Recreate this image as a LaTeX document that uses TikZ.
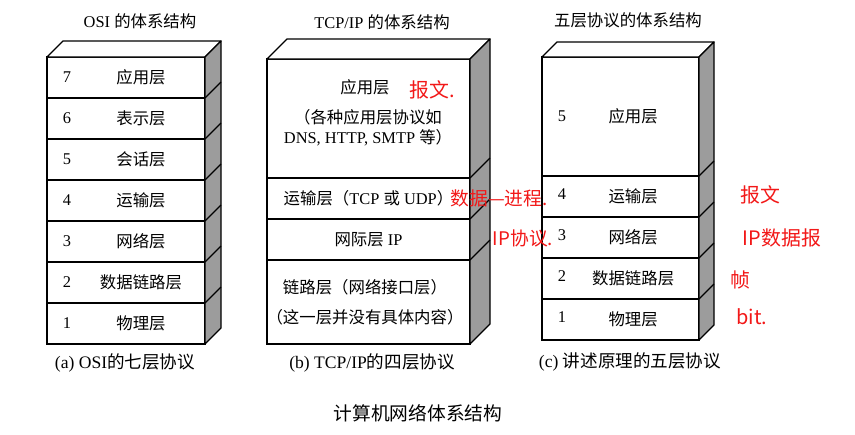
\documentclass[tikz,border=0pt]{standalone}
\usepackage{fontspec}
\setmainfont{Liberation Serif}
\newfontfamily\cjk{Noto Sans CJK SC}
\newcommand\zh[1]{{\cjk #1}}
\usetikzlibrary{positioning,calc}
\definecolor{sideface}{HTML}{9C9C9C}
\definecolor{pen}{HTML}{F21818}

\begin{document}
\begin{tikzpicture}[
    x=0.03cm, y=-0.03cm,
    every node/.style={font=\fontsize{14}{17}\selectfont, inner sep=1pt, align=center},
    lay/.style={draw, line width=1.1pt, fill=white, minimum width=#1,
                minimum height=1.23cm, inner sep=0, outer sep=0},
    face/.style={line width=1.1pt, line join=round},
    num/.style={font=\fontsize{14}{17}\selectfont},
    ttl/.style={font=\fontsize{14}{17}\selectfont},
    capt/.style={font=\fontsize{15}{18}\selectfont},
    pen/.style={text=pen, font=\fontsize{17}{20}\selectfont\cjk},
  ]
  \useasboundingbox (0,0) rectangle (855,434);

  % (a) OSI, seven layers
  \foreach \n/\name in {7/应用层, 6/表示层, 5/会话层, 4/运输层, 3/网络层, 2/数据链路层, 1/物理层} {
    \node[lay=4.74cm] (a\n) at (126,{57+41*(7-\n)+20.5}) {};
    \node[num] (a\n-n) at ([xshift=0.6cm]a\n.west) {\n};
    \node (a\n-t) at ([xshift=0.45cm]a\n.center) {\zh{\name}};
  }

  % (b) TCP/IP, four layers
  \node[lay=6.09cm, minimum height=3.57cm] (tapp) at (368.5,118.5) {};
  \node[lay=6.09cm, below=0pt of tapp] (ttr) {\zh{运输层（}TCP \zh{或} UDP\zh{）}};
  \node[lay=6.09cm, below=0pt of ttr] (tnet) {\zh{网际层} IP};
  \node[lay=6.09cm, minimum height=2.52cm, below=0pt of tnet] (tlink) {};
  \node (tapp-t) at (365,87) {\zh{应用层}};
  \node (tapp-s) at (368,128) {\zh{（各种应用层协议如}\\DNS, HTTP, SMTP \zh{等）}};
  \node[font=\fontsize{14}{25.5}\selectfont] (tlink-t) at (365,302) {\zh{链路层（网络接口层）}\\\zh{（这一层并没有具体内容）}};

  % (c) five layers
  \node[lay=4.71cm, minimum height=3.57cm] (f5) at (620.5,116.5) {};
  \node[num] (f5-n) at ([xshift=0.6cm]f5.west) {5};
  \node (f5-t) at ([xshift=0.38cm]f5.center) {\zh{应用层}};
  \foreach \n/\name [remember=\n as \p (initially 5)] in {4/运输层, 3/网络层, 2/数据链路层, 1/物理层} {
    \node[lay=4.71cm, below=0pt of f\p] (f\n) {};
    \node[num] (f\n-n) at ([xshift=0.6cm,yshift=2pt]f\n.west) {\n};
    \node (f\n-t) at ([xshift=0.38cm]f\n.center) {\zh{\name}};
  }

  % top and side faces
  \foreach \t/\b/\d in {a7/a1/16, tapp/tlink/20, f5/f1/15} {
    \draw[face, fill=white] (\t.north west) -- ++(\d,-\d) -- ($(\t.north east)+(\d,-\d)$) -- (\t.north east) -- cycle;
    \draw[face, fill=sideface] (\t.north east) -- ++(\d,-\d) -- ($(\b.south east)+(\d,-\d)$) -- (\b.south east) -- cycle;
  }
  \foreach \n in {a7,a6,a5,a4,a3,a2}
    \draw[face] (\n.south east) -- ++(16,-16);
  \foreach \n in {tapp,ttr,tnet}
    \draw[face] (\n.south east) -- ++(20,-20);
  \foreach \n in {f5,f4,f3,f2}
    \draw[face] (\n.south east) -- ++(15,-15);

  % titles and captions
  \node[ttl] (ta) at (140,21) {OSI \zh{的体系结构}};
  \node[ttl] (tb) at (382,22) {TCP/IP \zh{的体系结构}};
  \node[ttl] (tc) at (628,20) {\zh{五层协议的体系结构}};
  \node[capt] (ca) at (125,363) {(a) OSI\zh{的七层协议}};
  \node[capt] (cb) at (372,363) {(b) TCP/IP\zh{的四层协议}};
  \node[capt] (cc) at (630,362) {(c) \zh{讲述原理的五层协议}};
  \node[font=\fontsize{16}{19}\selectfont] (main) at (418,413) {\zh{计算机网络体系结构}};

  % red notes
  \node[pen] (p1) at (432,90) {报文.};
  \node[pen, font=\fontsize{16}{19}\selectfont\cjk] (p2) at (499,198) {数据—进程.};
  \node[pen, font=\fontsize{16}{19}\selectfont\cjk] (p3) at (523,238) {IP协议.};
  \node[pen] (p4) at (760,195) {报文};
  \node[pen] (p5) at (782,238) {IP数据报};
  \node[pen] (p6) at (740,280) {帧};
  \node[pen] (p7) at (752,317) {bit.};
\end{tikzpicture}
\end{document}
